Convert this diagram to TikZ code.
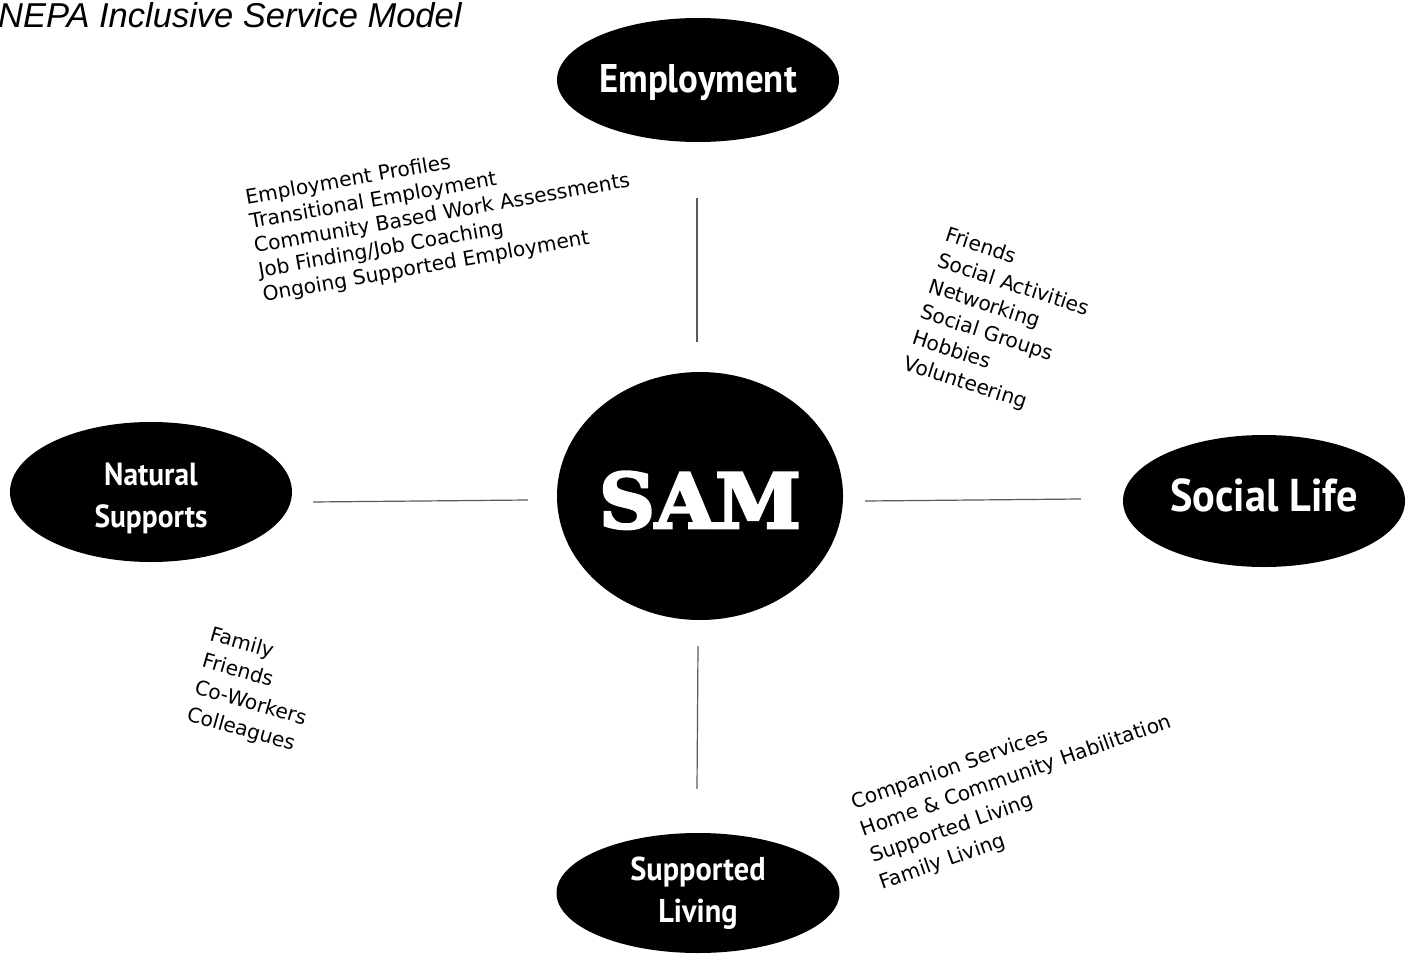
\documentclass[tikz,border=0pt]{standalone}
\usepackage{fontspec}
\setmainfont{Liberation Sans}
\newfontfamily\titlefont{Liberation Sans}
\newfontfamily\condfont[FakeStretch=0.92]{PT Sans}
\newfontfamily\slabfont[FakeBold=3.5,FakeStretch=1.02]{DejaVu Serif}
\newfontfamily\listfont{DejaVu Sans}
\usetikzlibrary{shapes.geometric}
\begin{document}
\begin{tikzpicture}[x=1pt,y=-1pt,
  blob/.style={ellipse,fill=black,draw=none,text=white,inner sep=0pt,align=center},
  lbl/.style={font=\condfont\bfseries\fontsize{#1}{42}\selectfont},
  link/.style={draw=black!65,line width=1.2pt},
  items/.style={anchor=north west,inner sep=0pt,align=left,text=black},
]
\useasboundingbox (0,0) rectangle (1411,955);
\node[anchor=base west,inner sep=0pt,font=\titlefont\itshape\fontsize{34.5}{38}\selectfont] (title) at (-2,28) {NEPA Inclusive Service Model};

\node[blob,minimum width=282,minimum height=124,lbl=40,text height=26pt,text depth=0pt] (emp) at (698,80) {Employment};
\node[blob,minimum width=286,minimum height=248,font=\slabfont\bfseries\fontsize{76}{80}\selectfont,text height=64pt,text depth=0pt] (sam) at (700,496) {SAM};
\node[blob,minimum width=282,minimum height=140,lbl=32] (nat) at (151,492) {\raisebox{7pt}[0pt][0pt]{\begin{tabular}[t]{@{}c@{}}Natural\\Supports\end{tabular}}};
\node[blob,minimum width=282,minimum height=132,lbl=46,text height=21pt,text depth=0pt] (soc) at (1264,501) {Social Life};
\node[blob,minimum width=283,minimum height=120,lbl=33] (sup) at (698,893) {Supported\\Living};

\draw[link] ([shift={(-1,56)}]emp.south) -- ([shift={(-3,-30)}]sam.north);
\draw[link] ([shift={(21,10)}]nat.east) -- ([shift={(-29,4)}]sam.west);
\draw[link] ([shift={(22,5)}]sam.east) -- ([shift={(-42,-2)}]soc.west);
\draw[link] ([shift={(-2,26)}]sam.south) -- ([shift={(-1,-44)}]sup.north);

\node[items,rotate=10,font=\listfont\fontsize{20.2}{24.7}\selectfont] (emplist) at (244,189)
  {Employment Profiles\\Transitional Employment\\Community Based Work Assessments\\Job Finding/Job Coaching\\Ongoing Supported Employment};
\node[items,rotate=-18,font=\listfont\fontsize{20.2}{27}\selectfont] (soclist) at (949,226)
  {Friends\\Social Activities\\Networking\\Social Groups\\Hobbies\\Volunteering};
\node[items,rotate=-16,font=\listfont\fontsize{20.2}{27.8}\selectfont] (natlist) at (213,625)
  {Family\\Friends\\Co-Workers\\Colleagues};
\node[items,rotate=19.5,font=\listfont\fontsize{20.2}{28.3}\selectfont] (suplist) at (849,795)
  {Companion Services\\Home \& Community Habilitation\\Supported Living\\Family Living};
\end{tikzpicture}
\end{document}
